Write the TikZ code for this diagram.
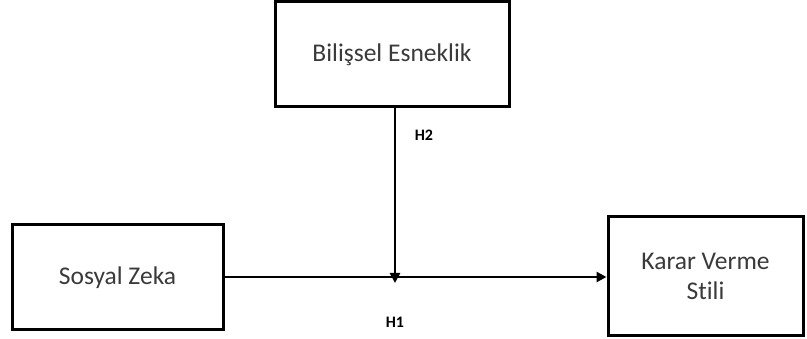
\documentclass[tikz,border=0pt]{standalone}
\usepackage{fontspec}
\setmainfont{Carlito}[Ligatures=NoCommon]
\usetikzlibrary{arrows.meta}
\definecolor{txt}{HTML}{3A3A3A}
\tikzset{
  box/.style={draw=black, line width=3pt, fill=white, inner sep=0pt, align=center,
    font=\fontsize{25.5}{30}\selectfont, text=txt},
  conn/.style={draw=black, line width=2.6pt, -{Triangle[length=10pt,width=10pt]}},
  hlabel/.style={font=\bfseries\fontsize{16}{19}\selectfont, text=black}
}
\begin{document}
\begin{tikzpicture}[x=1pt,y=-1pt]
\useasboundingbox (0,0) rectangle (807,339);
\node[box, minimum width=234pt, minimum height=105pt] (be) at (392,54.5) {Bilişsel Esneklik};
\node[box, minimum width=211pt, minimum height=105pt] (sz) at (117.5,277.5) {Sosyal Zeka};
\node[box, minimum width=195pt, minimum height=119pt] (kv) at (705.5,276.5) {Karar Verme\\Stili};
\coordinate (j) at (395,283);
\coordinate (h) at (395,277);
\draw[conn] (be.south -| j) -- (j);
\draw[conn] (sz.east |- h) -- (kv.west |- h);
\node[hlabel] (h2) at (424,135) {H2};
\node[hlabel] (h1) at (395,322) {H1};
\end{tikzpicture}
\end{document}
